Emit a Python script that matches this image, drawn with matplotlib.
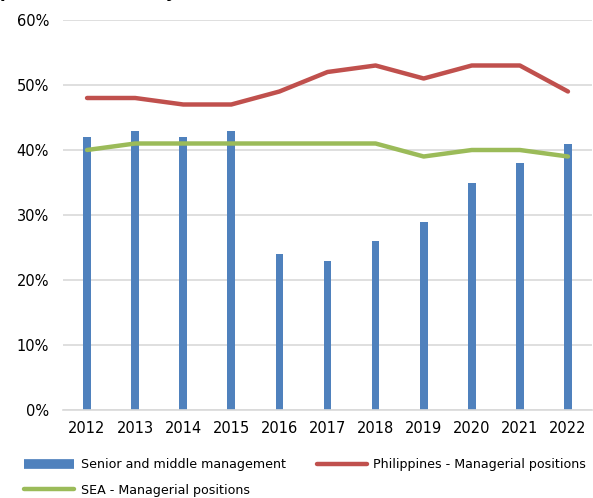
import matplotlib
matplotlib.use('Agg')
import matplotlib.pyplot as plt
import numpy as np
from matplotlib.ticker import FuncFormatter

years = ['2012', '2013', '2014', '2015', '2016', '2017', '2018', '2019', '2020', '2021', '2022']
senior_middle = [42, 43, 42, 43, 24, 23, 26, 29, 35, 38, 41]
philippines_mgr = [48, 48, 47, 47, 49, 52, 53, 51, 53, 53, 49]
sea_mgr = [40, 41, 41, 41, 41, 41, 41, 39, 40, 40, 39]

plt.rcParams['font.family'] = ['DejaVu Sans']

fig = plt.figure(figsize=(5.93, 4.98), dpi=100)
ax = fig.add_axes([63 / 593, 1 - 410 / 498, (592 - 63) / 593, (410 - 20) / 498])

x = np.arange(len(years))
bars = ax.bar(x, senior_middle, width=0.16, color='#4f81bd', zorder=2,
              label='Senior and middle management')
l_sea, = ax.plot(x, sea_mgr, color='#9bbb59', lw=3.2, zorder=3, solid_joinstyle='round',
                 solid_capstyle='round', label='SEA - Managerial positions')
l_ph, = ax.plot(x, philippines_mgr, color='#c0504d', lw=3.2, zorder=3, solid_joinstyle='round',
                solid_capstyle='round', label='Philippines - Managerial positions')

ax.set_xlim(-0.5, len(years) - 0.5)
ax.set_ylim(0, 60)
ax.set_yticks(range(0, 61, 10))
ax.yaxis.set_major_formatter(FuncFormatter(lambda v, p: f'{int(v)}%'))
ax.set_xticks(x)
ax.set_xticklabels(years)
ax.grid(axis='y', color='#d9d9d9', lw=1.2, zorder=0)
for s in ['top', 'right', 'left']:
    ax.spines[s].set_visible(False)
ax.spines['bottom'].set_color('#d9d9d9')
ax.spines['bottom'].set_linewidth(1.2)
ax.tick_params(axis='both', length=0, labelsize=10.5, colors='black')
ax.tick_params(axis='y', pad=10)
ax.tick_params(axis='x', pad=8)

bar_handle = plt.Line2D([0], [0], color='#4f81bd', lw=7, solid_capstyle='butt')
fig.legend([bar_handle, l_sea, l_ph],
           ['Senior and middle management', 'SEA - Managerial positions',
            'Philippines - Managerial positions'],
           ncol=2, loc='lower left', bbox_to_anchor=(0.025, -0.015), frameon=False,
           fontsize=9.1, handlelength=4.0, columnspacing=2.45, labelspacing=1.0,
           handletextpad=0.5, borderaxespad=0.3)

fig.text(0.0, 1 + 3.0 / 498, 'position in country, (%)', fontsize=12, fontweight='bold',
         ha='left', va='baseline')

fig.savefig('out.png', dpi=100)
